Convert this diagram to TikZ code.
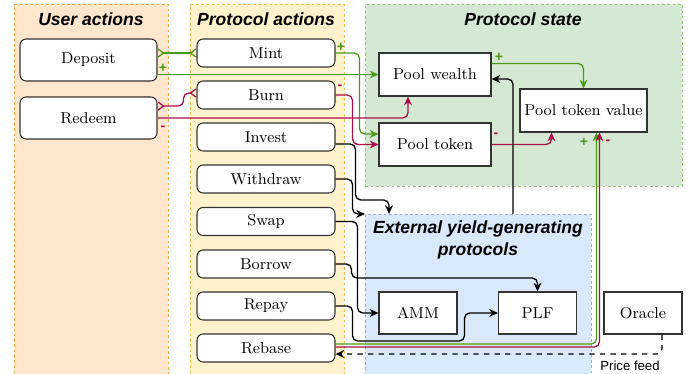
\documentclass[tikz,border=0pt]{standalone}
\usepackage{fontspec}
\setsansfont{Liberation Sans}
\usepackage{xcolor}
\usepackage{tikz}
\usetikzlibrary{arrows.meta, calc, positioning}
\definecolor{userbg}{HTML}{FFE6CC}
\definecolor{userline}{HTML}{F0A848}
\definecolor{protbg}{HTML}{FFF2CC}
\definecolor{protline}{HTML}{F2BE50}
\definecolor{statebg}{HTML}{D5E8D4}
\definecolor{stateline}{HTML}{97C280}
\definecolor{extbg}{HTML}{DAE8FC}
\definecolor{extline}{HTML}{8FAAD6}
\definecolor{plus}{HTML}{4D9A1A}
\definecolor{minus}{HTML}{A8104A}
\tikzset{
    panel/.style={draw,dash pattern=on 1.5pt off 1.5pt,line width=0.5pt,inner sep=0pt,anchor=north west},
    paneltitle/.style={font=\sffamily\bfseries\itshape\fontsize{10}{12}\selectfont,align=center},
    actbox/.style={draw=black!80,fill=white,rounded corners=3.5pt,line width=0.6pt,inner sep=0pt,
        minimum width=2.76cm,minimum height=0.56cm,font=\fontsize{9}{11}\selectfont},
    userbox/.style={actbox,minimum width=2.74cm,minimum height=0.84cm},
    statebox/.style={draw=black!80,fill=white,line width=0.6pt,inner sep=0pt,
        minimum width=2.24cm,minimum height=0.86cm,font=\fontsize{9}{11}\selectfont},
    extbox/.style={statebox,minimum width=1.56cm,minimum height=0.84cm},
    sign/.style={font=\sffamily\bfseries\fontsize{8}{9}\selectfont,inner sep=0pt},
    conn/.style={line width=0.75pt,rounded corners=3pt,-{Stealth[length=5pt,width=4.5pt]}},
    crow/.style={line width=0.75pt,rounded corners=3pt,
        {Straight Barb[reversed,length=3pt,width=4.5pt]}-{Straight Barb[reversed,length=3pt,width=4.5pt]}}
}

\begin{document}
\begin{tikzpicture}[x=0.02cm,y=-0.02cm]
  \useasboundingbox (0,0) rectangle (700,374);
  % panels
  \node[panel,fill=userbg,draw=userline,minimum width=3.08cm,minimum height=7.6cm] (user) at (14,4) {};
  \node[panel,fill=protbg,draw=protline,minimum width=3.08cm,minimum height=7.6cm] (prot) at (190,4) {};
  \node[panel,fill=statebg,draw=stateline,minimum width=6.34cm,minimum height=3.64cm] (state) at (365,4) {};
  \node[panel,fill=extbg,draw=extline,minimum width=4.52cm,minimum height=3.4cm] (ext) at (365,214) {};
  \node[paneltitle] (usertitle) at (91,19) {User actions};
  \node[paneltitle] (prottitle) at (266,19) {Protocol actions};
  \node[paneltitle] (statetitle) at (523,19) {Protocol state};
  \node[paneltitle] (exttitle) at (478,240) {External yield-generating\\protocols};

  % user actions
  \node[userbox] (deposit) at (88.5,60) {Deposit};
  \node[userbox] (redeem) at (88.5,118) {Redeem};

  % protocol actions
  \node[actbox] (mint) at (266,53) {Mint};
  \node[actbox] (burn) at (266,95) {Burn};
  \node[actbox] (invest) at (266,137) {Invest};
  \node[actbox] (withdraw) at (266,179) {Withdraw};
  \node[actbox] (swap) at (266,221.5) {Swap};
  \node[actbox] (borrow) at (266,264) {Borrow};
  \node[actbox] (repay) at (266,306) {Repay};
  \node[actbox] (rebase) at (266,348) {Rebase};

  % protocol state
  \node[statebox] (pwealth) at (435,74.5) {Pool wealth};
  \node[statebox] (ptoken) at (435,144.5) {Pool token};
  \node[statebox,minimum width=2.54cm] (ptvalue) at (583.5,110.5) {Pool token value};

  % external
  \node[extbox] (amm) at (418,313) {AMM};
  \node[extbox] (plf) at (537.5,313) {PLF};
  \node[extbox] (oracle) at (643,313) {Oracle};

  % plus side
  \draw[crow,plus] (deposit.east |- mint.west) -- (mint.west);
  \draw[conn,plus] (deposit.south east |- pwealth.west) -- (pwealth.west);
  \draw[conn,plus] (mint.east) -- ++(24,0) |- ($(ptoken.west)+(0,-10.5)$);
  \draw[conn,plus] ($(pwealth.east)+(0,-11)$) -| (ptvalue.north);
  \draw[conn,plus] ($(rebase.east)+(0,-4)$) -| ($(ptvalue.south)+(13,0)$);
  % minus side
  \draw[crow,minus] ($(redeem.east)+(0,-12)$) -- ++(26,0) |- ($(burn.west)+(0,-2)$);
  \draw[conn,minus] (redeem.east) -| ($(pwealth.south)+(-27,0)$);
  \draw[conn,minus] (burn.east) -- ++(17,0) |- (ptoken.west);
  \draw[conn,minus] (ptoken.east) -| ($(ptvalue.south)+(-32,0)$);
  \draw[conn,minus] ($(rebase.east)+(0,-1)$) -| ($(ptvalue.south)+(16,0)$);

  \node[sign,plus] (p1) at (163,68) {+};
  \node[sign,plus] (p2) at (341,47) {+};
  \node[sign,plus] (p3) at (499,57) {+};
  \node[sign,plus] (p4) at (584,142) {+};
  \node[sign,minus] (m1) at (163,128) {-};
  \node[sign,minus] (m2) at (340,87) {-};
  \node[sign,minus] (m3) at (496,135) {-};
  \node[sign,minus] (m4) at (608,142) {-};

  % external protocols
  \draw[conn] ($(invest.east)+(0,7)$) -- ++(20,0) |- ($(ext.north west)+(24,-14)$) -- ($(ext.north west)+(24,0)$);
  \draw[conn] (withdraw.east) -- ++(17,0) |- (ext.north west);
  \draw[conn] (swap.east) -- ++(22,0) |- (amm.west);
  \draw[conn] (borrow.east) -- ++(16,0) -- ++(0,14) -| (plf.north);
  \draw[conn] (repay.east) -- ++(17,0) -- ++(0,35) -- ++(112,0) |- (plf.west);
  \draw[conn] ($(ext.north west)+(148,0)$) |- ($(pwealth.east)+(0,4.5)$);
  \draw[conn,dashed] ($(oracle.south)+(19,0)$) |- ($(rebase.east)+(0,6)$);
  \node[font=\sffamily\fontsize{7.5}{8}\selectfont] (feed) at (630,366) {Price feed};
\end{tikzpicture}
\end{document}
